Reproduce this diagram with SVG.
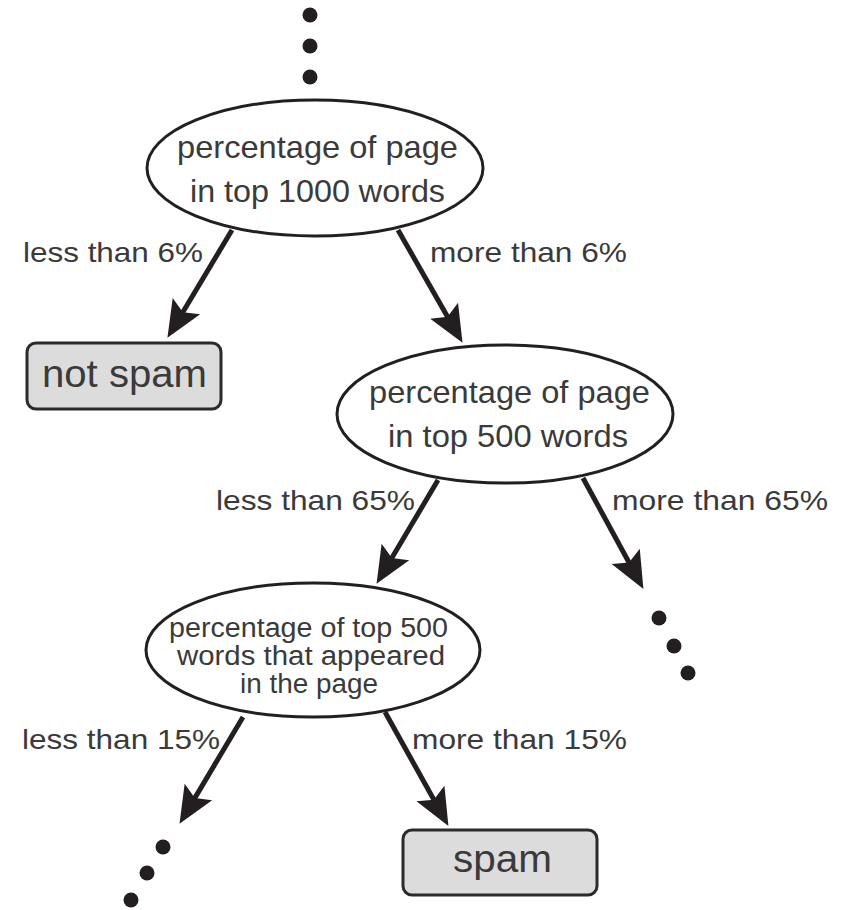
<svg xmlns="http://www.w3.org/2000/svg" width="846" height="910" viewBox="0 0 846 910">
<style>
.node{fill:#fff;stroke:#231f20;stroke-width:3}
.box{fill:#dcdcdc;stroke:#2b2b2b;stroke-width:3}
.t{font-family:"Liberation Sans",Arial,sans-serif;fill:#3a3a3a}
.big{font-size:32px}
.small{font-size:27px}
.lbl{font-size:28px}
.res{font-size:38px}
.edge{stroke:#231f20;stroke-width:5;fill:none;marker-end:url(#ah)}
.dot{fill:#231f20}
</style>
<defs>
<marker id="ah" markerUnits="userSpaceOnUse" viewBox="-12 -17 42 34" refX="0" refY="0" markerWidth="42" markerHeight="34" orient="auto">
<path d="M27,0 L-10,-16 L-3,0 L-10,16 Z" fill="#231f20"/>
</marker>
</defs>
<g id="dots-top">
<circle class="dot" cx="310" cy="15" r="7.5"/>
<circle class="dot" cx="310" cy="46" r="7.5"/>
<circle class="dot" cx="310" cy="77" r="7.5"/>
</g>
<g id="dots-right">
<circle class="dot" cx="659" cy="618" r="7.5"/>
<circle class="dot" cx="674" cy="646" r="7.5"/>
<circle class="dot" cx="688" cy="673" r="7.5"/>
</g>
<g id="dots-left">
<circle class="dot" cx="163" cy="847" r="7.5"/>
<circle class="dot" cx="147" cy="873" r="7.5"/>
<circle class="dot" cx="131" cy="900" r="7.5"/>
</g>
<g id="connectors">
<line class="edge" x1="232" y1="230" x2="181.3" y2="314.7"/>
<line class="edge" x1="398" y1="230" x2="449.1" y2="319.4"/>
<line class="edge" x1="438" y1="480" x2="390.3" y2="560.6"/>
<line class="edge" x1="583" y1="478" x2="630.5" y2="565.2"/>
<line class="edge" x1="243" y1="717" x2="193.3" y2="800.6"/>
<line class="edge" x1="385" y1="712" x2="435.3" y2="802.3"/>
<text class="t lbl" x="23" y="262" textLength="180" lengthAdjust="spacingAndGlyphs">less than 6%</text>
<text class="t lbl" x="430" y="262" textLength="197" lengthAdjust="spacingAndGlyphs">more than 6%</text>
<text class="t lbl" x="216" y="510" textLength="199" lengthAdjust="spacingAndGlyphs">less than 65%</text>
<text class="t lbl" x="612" y="510" textLength="216" lengthAdjust="spacingAndGlyphs">more than 65%</text>
<text class="t lbl" x="22" y="749" textLength="198" lengthAdjust="spacingAndGlyphs">less than 15%</text>
<text class="t lbl" x="412" y="749" textLength="215" lengthAdjust="spacingAndGlyphs">more than 15%</text>
</g>
<g id="node-top1000">
<ellipse class="node" cx="315" cy="168" rx="168" ry="68"/>
<text class="t big" x="177" y="158" textLength="281" lengthAdjust="spacingAndGlyphs">percentage of page</text>
<text class="t big" x="190" y="202" textLength="255" lengthAdjust="spacingAndGlyphs">in top 1000 words</text>
</g>
<g id="node-notspam">
<rect class="box" x="27" y="343" width="194" height="66" rx="9"/>
<text class="t res" x="42" y="387" textLength="165" lengthAdjust="spacingAndGlyphs">not spam</text>
</g>
<g id="node-top500">
<ellipse class="node" cx="505" cy="414" rx="168" ry="69"/>
<text class="t big" x="369" y="403" textLength="281" lengthAdjust="spacingAndGlyphs">percentage of page</text>
<text class="t big" x="388" y="447" textLength="240" lengthAdjust="spacingAndGlyphs">in top 500 words</text>
</g>
<g id="node-appeared">
<ellipse class="node" cx="313" cy="650" rx="167" ry="67"/>
<text class="t small" x="169" y="637" textLength="279" lengthAdjust="spacingAndGlyphs">percentage of top 500</text>
<text class="t small" x="177" y="665" textLength="268" lengthAdjust="spacingAndGlyphs">words that appeared</text>
<text class="t small" x="240" y="693" textLength="138" lengthAdjust="spacingAndGlyphs">in the page</text>
</g>
<g id="node-spam">
<rect class="box" x="403" y="830" width="194" height="65" rx="9"/>
<text class="t res" x="453" y="872" textLength="99" lengthAdjust="spacingAndGlyphs">spam</text>
</g>
</svg>
